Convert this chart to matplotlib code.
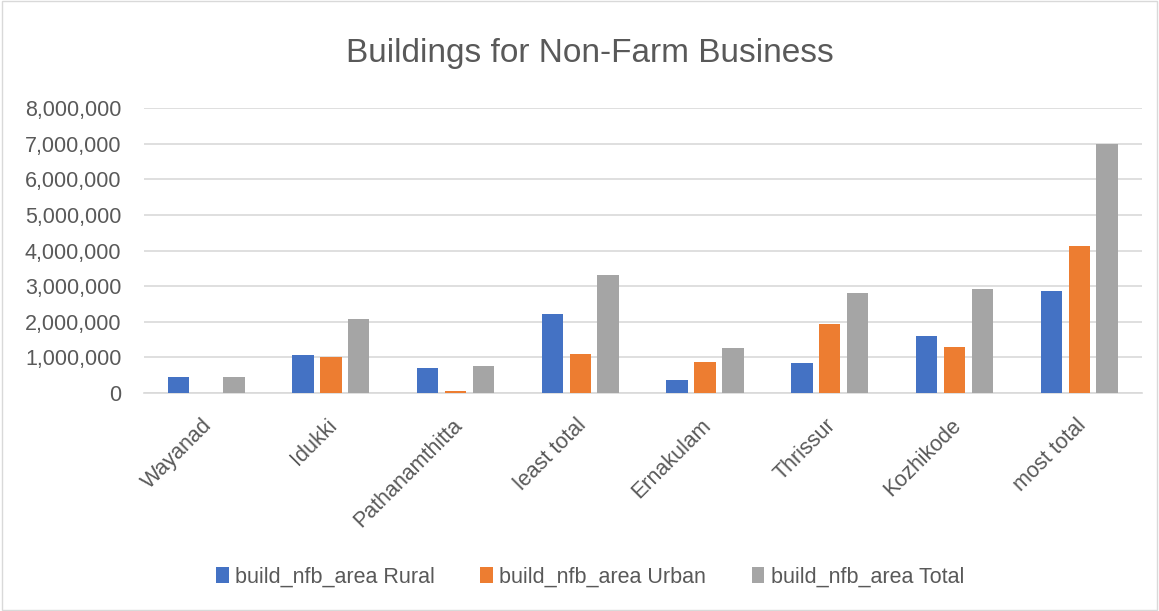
import matplotlib.pyplot as plt
import matplotlib.transforms as mtransforms
import numpy as np
from matplotlib.patches import Rectangle
from matplotlib.ticker import FuncFormatter

plt.rcParams["font.family"] = ["Liberation Sans", "DejaVu Sans"]

districts = [
    "Wayanad", "Idukki", "Pathanamthitta", "least total",
    "Ernakulam", "Thrissur", "Kozhikode", "most total",
]
rural = [440000, 1060000, 690000, 2220000, 360000, 840000, 1610000, 2850000]
urban = [0, 1000000, 56000, 1080000, 870000, 1930000, 1290000, 4130000]
total = [440000, 2070000, 760000, 3310000, 1250000, 2800000, 2920000, 7000000]

series = [
    ("build_nfb_area Rural", rural, "#4472c4"),
    ("build_nfb_area Urban", urban, "#ed7d31"),
    ("build_nfb_area Total", total, "#a5a5a5"),
]
text_color = "#595959"

fig = plt.figure(figsize=(11.59, 6.11), dpi=100)
ax = fig.add_axes([0.124, 0.357, 0.861, 0.466])

x = np.arange(len(districts))
offset = 0.223
width = 0.172
for i, (name, vals, color) in enumerate(series):
    ax.bar(x + (i - 1) * offset, vals, width, color=color, label=name, zorder=3)

ax.set_xlim(-0.5, len(districts) - 0.5)
ax.set_ylim(0, 8000000)
ax.set_yticks(np.arange(0, 8000001, 1000000))
ax.yaxis.set_major_formatter(FuncFormatter(lambda v, _: f"{int(v):,}"))
ax.grid(axis="y", color="#d9d9d9", linewidth=1.2, zorder=0)
for side in ["top", "right", "left"]:
    ax.spines[side].set_visible(False)
ax.spines["bottom"].set_color("#d9d9d9")
ax.spines["bottom"].set_linewidth(1.2)
ax.tick_params(axis="both", length=0, colors=text_color, labelsize=15.5)
ax.tick_params(axis="y", pad=16)
ax.tick_params(axis="x", pad=16)

ax.set_xticks(x)
ax.set_xticklabels(districts, rotation=45, ha="right", rotation_mode="anchor")
# nudge the rotated labels a little to the left of their ticks
shift = mtransforms.ScaledTranslation(-3 / 72, 0, fig.dpi_scale_trans)
for lbl in ax.get_xticklabels():
    lbl.set_transform(lbl.get_transform() + shift)

fig.text(0.509, 0.912, "Buildings for Non-Farm Business", ha="center", va="center",
         fontsize=24, color=text_color)

fig.legend(loc="center", bbox_to_anchor=(0.509, 0.056), ncol=3, frameon=False,
           fontsize=15.5, labelcolor=text_color, handlelength=0.6, handleheight=0.8,
           handletextpad=0.3, columnspacing=2.1)

fig.patches.append(Rectangle((0.002, 0.002), 0.996, 0.996, transform=fig.transFigure,
                             fill=False, edgecolor="#d9d9d9", linewidth=1))

fig.savefig("out.png", dpi=100)
